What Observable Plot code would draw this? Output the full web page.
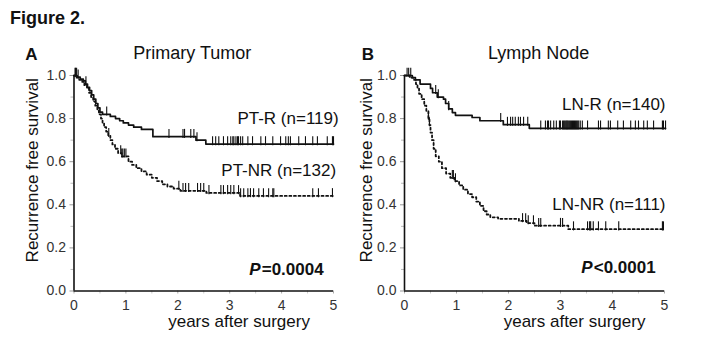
<!DOCTYPE html>
<html>
<head>
<meta charset="utf-8">
<script src="https://cdn.jsdelivr.net/npm/d3@7"></script>
<script src="https://cdn.jsdelivr.net/npm/@observablehq/plot@0.6"></script>
<style>
  html, body { margin: 0; padding: 0; background: #fff; }
  #fig { position: relative; width: 720px; height: 362px; background: #fff; font-family: "Liberation Sans", Arial, sans-serif; color: #111; overflow: hidden; }
  #figtitle { position: absolute; left: 10px; top: 9px; font-size: 18px; line-height: 1; font-weight: bold; }
  #panelA { position: absolute; left: 0; top: 0; }
  #panelB { position: absolute; left: 350px; top: 0; }
</style>
</head>
<body>
<div id="fig">
  <div id="figtitle">Figure 2.</div>
  <div id="panelA"></div>
  <div id="panelB"></div>
</div>
<script>
// ---------- Data ----------
const panelLetters = ["A", "B"];
const panelTitles = ["Primary Tumor", "Lymph Node"];
const yLabel = "Recurrence free survival";
const xLabel = "years after surgery";
const xTicks = [0, 1, 2, 3, 4, 5];
const xMinorTicks = [0.5, 1.5, 2.5, 3.5, 4.5];
const yTicks = [0, 0.2, 0.4, 0.6, 0.8, 1.0];
const yMinorTicks = [0.1, 0.3, 0.5, 0.7, 0.9];

// PT-R (solid) step curve
const ptR_t = [0, 0.06, 0.12, 0.18, 0.22, 0.26, 0.30, 0.34, 0.38, 0.42, 0.46, 0.50, 0.55, 0.70, 0.80, 0.88, 0.95, 1.05, 1.15, 1.30, 1.52, 2.35, 2.54, 5.0];
const ptR_s = [1.0, 0.992, 0.983, 0.975, 0.96, 0.945, 0.93, 0.91, 0.89, 0.87, 0.85, 0.83, 0.82, 0.81, 0.80, 0.79, 0.78, 0.77, 0.76, 0.75, 0.716, 0.70, 0.682, 0.682];
const ptR_cens = [0.02, 0.05, 0.08, 0.23, 0.63, 1.83, 2.10, 2.13, 2.25, 2.31, 2.37, 2.67, 2.73, 2.79, 2.88, 2.96, 3.02, 3.06, 3.08, 3.12, 3.15, 3.17, 3.21, 3.25, 3.35, 3.44, 3.60, 3.69, 3.83, 3.98, 4.08, 4.13, 4.17, 4.33, 4.46, 4.60, 4.69, 4.88, 4.98, 5.0];

// PT-NR (dashed) step curve
const ptNR_t = [0, 0.05, 0.10, 0.16, 0.20, 0.25, 0.29, 0.33, 0.37, 0.41, 0.45, 0.48, 0.52, 0.55, 0.58, 0.62, 0.66, 0.70, 0.74, 0.79, 0.85, 0.92, 1.05, 1.12, 1.20, 1.30, 1.40, 1.50, 1.60, 1.70, 1.80, 1.92, 2.05, 2.55, 3.20, 5.0];
const ptNR_s = [1.0, 0.99, 0.98, 0.97, 0.955, 0.94, 0.92, 0.90, 0.88, 0.86, 0.84, 0.82, 0.80, 0.78, 0.76, 0.74, 0.72, 0.70, 0.68, 0.66, 0.64, 0.625, 0.60, 0.585, 0.57, 0.555, 0.54, 0.525, 0.51, 0.495, 0.485, 0.475, 0.465, 0.455, 0.441, 0.441];
const ptNR_cens = [0.03, 0.67, 0.90, 0.92, 0.94, 0.97, 1.0, 2.02, 2.10, 2.15, 2.21, 2.38, 2.44, 2.50, 2.60, 2.83, 2.88, 2.96, 3.02, 3.08, 3.17, 3.21, 3.27, 3.35, 3.40, 3.46, 3.56, 3.65, 3.75, 3.83, 3.85, 4.60, 4.71, 4.98];

// LN-R (solid) step curve
const lnR_t = [0, 0.15, 0.21, 0.30, 0.50, 0.54, 0.63, 0.75, 0.79, 0.85, 0.92, 0.98, 1.30, 1.45, 1.90, 2.40, 5.02];
const lnR_s = [1.0, 0.99, 0.98, 0.96, 0.94, 0.92, 0.90, 0.89, 0.87, 0.845, 0.828, 0.815, 0.805, 0.79, 0.772, 0.755, 0.755];
const lnR_cens = [0.08, 0.12, 0.60, 0.65, 0.85, 1.85, 1.98, 2.04, 2.08, 2.13, 2.19, 2.23, 2.29, 2.37, 2.62, 2.71, 2.75, 2.77, 2.81, 2.87, 2.92, 2.98, 3.00, 3.04, 3.06, 3.08, 3.10, 3.12, 3.13, 3.15, 3.17, 3.19, 3.21, 3.23, 3.25, 3.27, 3.29, 3.31, 3.33, 3.35, 3.38, 3.42, 3.52, 3.73, 3.77, 3.92, 3.96, 4.10, 4.21, 4.35, 4.44, 4.50, 4.60, 4.67, 4.79, 4.96, 4.98, 5.02];

// LN-NR (dashed) step curve
const lnNR_t = [0, 0.10, 0.17, 0.22, 0.25, 0.28, 0.33, 0.38, 0.42, 0.46, 0.48, 0.50, 0.53, 0.56, 0.60, 0.66, 0.72, 0.80, 0.88, 0.96, 1.05, 1.13, 1.22, 1.30, 1.38, 1.45, 1.52, 1.58, 1.65, 1.80, 2.20, 2.35, 2.50, 3.15, 4.98];
const lnNR_s = [1.0, 0.99, 0.98, 0.96, 0.94, 0.915, 0.89, 0.86, 0.835, 0.80, 0.77, 0.735, 0.70, 0.66, 0.625, 0.60, 0.57, 0.545, 0.525, 0.51, 0.49, 0.47, 0.45, 0.435, 0.415, 0.395, 0.37, 0.355, 0.342, 0.335, 0.325, 0.315, 0.303, 0.287, 0.287];
const lnNR_cens = [0.05, 0.46, 0.48, 0.92, 0.94, 0.98, 2.27, 2.33, 2.38, 2.48, 2.58, 2.62, 3.00, 3.04, 3.25, 3.52, 3.56, 3.58, 3.63, 3.73, 3.87, 4.12, 4.96, 4.98];

// Annotation labels (text, x, y in data units)
const labelsA = [
  {text: "PT-R (n=119)", x: 5.1, y: 0.80},
  {text: "PT-NR (n=132)", x: 5.05, y: 0.56}
];
const labelsB = [
  {text: "LN-R (n=140)", x: 5.02, y: 0.866},
  {text: "LN-NR (n=111)", x: 5.02, y: 0.40}
];
const pvals = [
  {pre: "P", post: "=0.0004", x: 4.81, y: 0.10},
  {pre: "P", post: "<0.0001", x: 4.83, y: 0.11}
];
// centre of the x-axis title (years) in each panel
const xLabelCenters = [3.18, 3.27];
// centre of the panel titles (years)
const titleCenters = [2.28, 2.58];

// ---------- Helpers ----------
function steps(ts, ss) { return ts.map((t, i) => ({t, s: ss[i]})); }
function stepAt(ts, ss, t) {
  let v = ss[0];
  for (let i = 0; i < ts.length; i++) { if (ts[i] <= t) v = ss[i]; else break; }
  return v;
}
function cens(times, ts, ss) { return times.map(t => ({t, s: stepAt(ts, ss, t)})); }

const FONT = "'Liberation Sans', Arial, sans-serif";

function panel(opts) {
  const {width, marginLeft, marginRight, solid, dashed, solidC, dashedC, labels, pval, letter, title, titleX, letterDx, ylabDx, xlabX} = opts;
  return Plot.plot({
    width, height: 362,
    marginLeft, marginRight, marginTop: 75, marginBottom: 71.5,
    x: {domain: [0, 5]},
    y: {domain: [0, 1]},
    style: {fontFamily: FONT, fontSize: "14px", color: "#222", background: "transparent", overflow: "visible"},
    marks: [
      // minor & major ticks
      Plot.axisY(yMinorTicks, {tickSize: 3, tickFormat: () => "", stroke: "#bbb", label: null}),
      Plot.axisY(yTicks, {tickSize: 4, tickPadding: 4, tickFormat: d3.format(".1f"), stroke: "#999", fill: "#333", fontSize: 14, label: null}),
      Plot.axisX(xMinorTicks, {tickSize: 3, tickFormat: () => "", stroke: "#ccc", label: null}),
      Plot.axisX(xTicks, {tickSize: 3, tickPadding: 6, tickFormat: d => String(d), stroke: "#aaa", fill: "#333", fontSize: 14, label: null}),
      // axis lines
      Plot.ruleX([0], {y1: 0, y2: 1, stroke: "#111", strokeWidth: 1.6}),
      Plot.ruleY([0], {x1: 0, x2: 5, stroke: "#111", strokeWidth: 1.6}),
      // curves
      Plot.line(solid, {x: "t", y: "s", curve: "step-after", stroke: "#111", strokeWidth: 1.7}),
      Plot.line(dashed, {x: "t", y: "s", curve: "step-after", stroke: "#111", strokeWidth: 1.8, strokeDasharray: "2,2.6"}),
      // censor marks
      Plot.ruleX(solidC, {x: "t", y1: d => d.s - 0.008, y2: d => d.s + 0.034, stroke: "#111", strokeWidth: 1.1}),
      Plot.ruleX(dashedC, {x: "t", y1: d => d.s - 0.008, y2: d => d.s + 0.034, stroke: "#111", strokeWidth: 1.1}),
      // group labels
      Plot.text(labels, {x: "x", y: "y", text: "text", textAnchor: "end", fontSize: 17, fill: "#111"}),
      // p value
      Plot.text([pval], {x: "x", y: "y", text: d => d.post, textAnchor: "end", fontSize: 17, fontWeight: "bold", fill: "#111"}),
      Plot.text([pval], {x: "x", y: "y", text: d => d.pre, textAnchor: "end", fontSize: 17, fontWeight: "bold", fontStyle: "italic", fill: "#111",
        dx: -opts.pvalPostWidth}),
      // x label
      Plot.text([xLabel], {x: xlabX, frameAnchor: "bottom", dy: 35.5, fontSize: 17, fill: "#111", lineAnchor: "bottom", textAnchor: "middle"}),
      // y label
      Plot.text([yLabel], {frameAnchor: "left", dx: ylabDx, dy: -13, rotate: -90, textAnchor: "middle", lineAnchor: "middle", fontSize: 17, fill: "#111"}),
      // panel title and letter
      Plot.text([title], {x: titleX, frameAnchor: "top", dy: -17, lineAnchor: "bottom", textAnchor: "middle", fontSize: 18, fill: "#111"}),
      Plot.text([letter], {frameAnchor: "top-left", dx: letterDx, dy: -16, lineAnchor: "bottom", textAnchor: "middle", fontSize: 17, fontWeight: "bold", fill: "#111"})
    ]
  });
}

document.getElementById("panelA").append(panel({
  width: 350, marginLeft: 73.5, marginRight: 17,
  solid: steps(ptR_t, ptR_s), dashed: steps(ptNR_t, ptNR_s),
  solidC: cens(ptR_cens, ptR_t, ptR_s), dashedC: cens(ptNR_cens, ptNR_t, ptNR_s),
  labels: labelsA, pval: pvals[0], pvalPostWidth: 63,
  letter: panelLetters[0], title: panelTitles[0], titleX: titleCenters[0], letterDx: -42.5, ylabDx: -41, xlabX: xLabelCenters[0]
}));

document.getElementById("panelB").append(panel({
  width: 370, marginLeft: 54, marginRight: 56,
  solid: steps(lnR_t, lnR_s), dashed: steps(lnNR_t, lnNR_s),
  solidC: cens(lnR_cens, lnR_t, lnR_s), dashedC: cens(lnNR_cens, lnNR_t, lnNR_s),
  labels: labelsB, pval: pvals[1], pvalPostWidth: 63,
  letter: panelLetters[1], title: panelTitles[1], titleX: titleCenters[1], letterDx: -36.5, ylabDx: -38, xlabX: xLabelCenters[1]
}));
</script>
</body>
</html>
